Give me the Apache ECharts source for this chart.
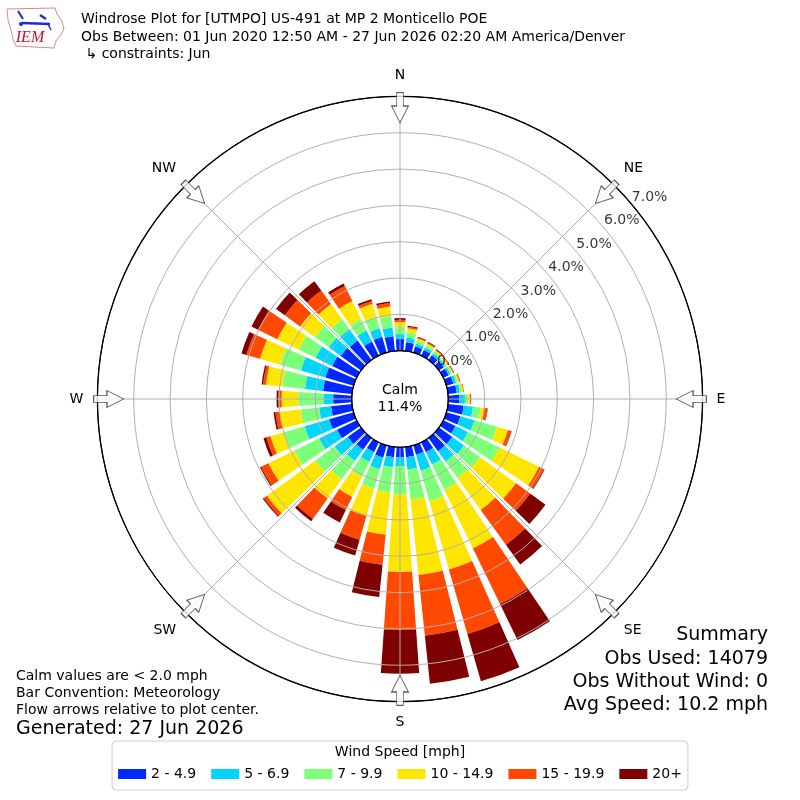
<!DOCTYPE html>
<html>
<head>
<meta charset="utf-8">
<script src="https://cdn.jsdelivr.net/npm/echarts@6/dist/echarts.min.js"></script>
<style>html,body{margin:0;padding:0;background:#fff}#chart{width:800px;height:800px}</style>
</head>
<body>
<div id="chart"></div>
<script>
// ---- data ----
const directions = ['0','10','20','30','40','50','60','70','80','90','100','110','120','130','140','150','160','170',
                    '180','190','200','210','220','230','240','250','260','270','280','290','300','310','320','330','340','350'];
const speedBins = ['2 - 4.9', '5 - 6.9', '7 - 9.9', '10 - 14.9', '15 - 19.9', '20+'];
const spd2to5 = [0.32,0.24,0.18,0.17,0.16,0.16,0.16,0.20,0.24,0.30,0.43,0.40,0.37,0.45,0.45,0.30,0.27,0.28,
                 0.28,0.28,0.35,0.30,0.40,0.45,0.60,0.70,0.58,0.51,0.80,0.81,0.75,0.69,0.66,0.43,0.45,0.41];
const spd5to7 = [0.14,0.13,0.08,0.08,0.07,0.06,0.06,0.08,0.09,0.16,0.26,0.40,0.38,0.40,0.35,0.38,0.45,0.34,
                 0.24,0.28,0.33,0.30,0.38,0.45,0.55,0.70,0.33,0.27,0.50,0.70,0.51,0.41,0.39,0.34,0.25,0.24];
const spd7to10 = [0.19,0.15,0.08,0.07,0.06,0.05,0.05,0.05,0.05,0.09,0.21,0.65,0.97,0.55,0.56,0.77,0.88,0.83,
                  0.78,0.70,0.56,0.45,0.62,0.65,0.75,0.60,0.51,0.69,0.63,0.59,0.52,0.46,0.33,0.35,0.33,0.32];
const spd10to15 = [0.14,0.11,0.06,0.05,0.04,0.04,0.03,0.04,0.04,0.05,0.11,0.31,1.21,1.22,1.09,1.80,1.95,2.09,
                   2.13,1.17,0.78,0.62,0.66,1.65,0.80,0.38,0.58,0.46,0.45,0.58,0.65,0.51,0.52,0.55,0.37,0.26];
const spd15to20 = [0.06,0.04,0.03,0.03,0.02,0.02,0.02,0.02,0.02,0.02,0.08,0.10,0.15,0.48,1.18,1.70,1.85,1.68,
                   1.60,0.83,0.68,0.40,0.69,0.11,0.23,0.12,0.12,0.09,0.08,0.39,0.59,0.52,0.46,0.46,0.08,0.10];
const spd20plus = [0.05,0.03,0.02,0.02,0.02,0.01,0.01,0.01,0.00,0.01,0.01,0.01,0.02,0.52,0.67,1.10,1.35,1.33,
                   1.20,0.89,0.45,0.38,0.08,0.03,0.03,0.08,0.05,0.05,0.04,0.14,0.20,0.30,0.32,0.08,0.05,0.04];
const radiusTicks = [0, 1, 2, 3, 4, 5, 6, 7];
const compassLabels = ['N', 'NE', 'E', 'SE', 'S', 'SW', 'W', 'NW'];
const compassAngles = [0, 45, 90, 135, 180, 225, 270, 315];
const calmPct = 11.4;
const summary = ['Summary', 'Obs Used: 14079', 'Obs Without Wind: 0', 'Avg Speed: 10.2 mph'];
const notes = ['Calm values are < 2.0 mph', 'Bar Convention: Meteorology', 'Flow arrows relative to plot center.'];

// ---- styles ----
const binColors = ['#0028ff', '#00d4ff', '#7cff79', '#ffe600', '#ff4800', '#7f0000'];
const FONT = '"DejaVu Sans", sans-serif';
const CX = 400, CY = 399, R_IN = 48.3, R_OUT = 302.6;
const rMax = 7;
const arrowR = 6.69;     // radial placement of compass arrows (axis units)
const rLabelAngle = 50;  // compass angle of ring labels
const gridGray = '#b0b0b0';

const seriesData = [spd2to5, spd5to7, spd7to10, spd10to15, spd15to20, spd20plus];

const barSeries = seriesData.map((d, i) => ({
  name: speedBins[i],
  type: 'bar',
  coordinateSystem: 'polar',
  polarIndex: 0,
  stack: 'wind',
  data: d,
  barCategoryGap: '20%',
  itemStyle: { color: binColors[i] },
  silent: true,
  z: 2
}));

const ringColors = radiusTicks.map((t, i) => (i === 0 || i === radiusTicks.length - 1) ? '#000' : gridGray);

const arrowPath = 'path://M8.5,0 L17,16.7 L11.8,16.7 L11.8,30 L5.2,30 L5.2,16.7 L0,16.7 Z';

const txt = (x, y, text, size, align, extra) => Object.assign({
  type: 'text', x: x, y: y, silent: true,
  style: { text: text, font: size + 'px ' + FONT, fill: '#000', textAlign: align || 'left', textVerticalAlign: 'middle' }
}, extra || {});

const graphics = [
  txt(81, 19, 'Windrose Plot for [UTMPO] US-491 at MP 2 Monticello POE', 14),
  txt(81, 37, 'Obs Between: 01 Jun 2020 12:50 AM - 27 Jun 2026 02:20 AM America/Denver', 14),
  txt(81, 54, ' \u21b3 constraints: Jun', 14),
  txt(CX, 390, 'Calm', 14, 'center'),
  txt(CX, 407, calmPct.toFixed(1) + '%', 14, 'center'),
  txt(16, 676, notes[0], 14),
  txt(16, 693, notes[1], 14),
  txt(16, 710, notes[2], 14),
  txt(16, 729, 'Generated: 27 Jun 2026', 19),
  txt(768, 635, summary[0], 19, 'right'),
  txt(768, 659, summary[1], 19, 'right'),
  txt(768, 682, summary[2], 19, 'right'),
  txt(768, 705, summary[3], 19, 'right'),
  txt(CX, 752, 'Wind Speed [mph]', 14, 'center', { z: 100 }),
  // IEM logo (approximation)
  { type: 'polygon', silent: true,
    shape: { points: [[7,9],[55,8],[57,14],[62,21],[64,29],[60,36],[56,41],[54,48],[16,46],[13,39],[11,30],[8,20]] },
    style: { fill: '#fff', stroke: '#d88', lineWidth: 1 } },
  { type: 'polyline', silent: true, shape: { points: [[22,23],[50,24]] }, style: { stroke: '#1a2fd0', lineWidth: 2.5 } },
  { type: 'polyline', silent: true, shape: { points: [[18,11],[23,19]] }, style: { stroke: '#1a2fd0', lineWidth: 2 } },
  { type: 'polyline', silent: true, shape: { points: [[40,15],[46,19]] }, style: { stroke: '#1a2fd0', lineWidth: 2.5 } },
  { type: 'polyline', silent: true, shape: { points: [[48,24],[51,30]] }, style: { stroke: '#1a2fd0', lineWidth: 1.5 } },
  { type: 'circle', silent: true, shape: { cx: 21, cy: 24, r: 2 }, style: { fill: '#1a2fd0' } },
  { type: 'text', x: 30, y: 38, silent: true,
    style: { text: 'IEM', font: 'italic 16px "Liberation Serif", serif', fill: '#c8102e', textAlign: 'center', textVerticalAlign: 'middle' } }
];

const option = {
  backgroundColor: '#fff',
  animation: false,
  textStyle: { fontFamily: FONT },
  polar: [
    { center: [CX, CY], radius: [R_IN, R_OUT] },
    { center: [CX, CY], radius: [R_IN, R_OUT] }
  ],
  angleAxis: [
    { polarIndex: 0, type: 'category', data: directions, startAngle: 95, clockwise: true, boundaryGap: true,
      axisLine: { show: false }, axisTick: { show: false }, axisLabel: { show: false }, splitLine: { show: false } },
    { polarIndex: 1, type: 'value', min: 0, max: 360, interval: 45, startAngle: 90, clockwise: true, z: 3,
      axisLine: { show: true, lineStyle: { color: '#000', width: 1.3 } },
      axisTick: { show: false },
      axisLabel: { show: true, margin: 14, fontSize: 14, color: '#000', fontFamily: FONT,
        formatter: v => (v >= 360 ? '' : compassLabels[Math.round(v / 45) % 8]) },
      splitLine: { show: true, lineStyle: { color: gridGray, width: 1 } } }
  ],
  radiusAxis: [
    { polarIndex: 0, min: 0, max: rMax, interval: 1, z: 3,
      axisLine: { show: false }, axisTick: { show: false }, axisLabel: { show: false },
      splitLine: { show: true, lineStyle: { color: ringColors, width: 1 } } },
    { polarIndex: 1, min: 0, max: rMax, interval: 1,
      axisLine: { show: false }, axisTick: { show: false }, axisLabel: { show: false }, splitLine: { show: false } }
  ],
  legend: {
    data: speedBins,
    left: 'center', top: 741, orient: 'horizontal',
    icon: 'rect', itemWidth: 28, itemHeight: 10, itemGap: 15,
    textStyle: { fontSize: 14, color: '#000', fontFamily: FONT },
    borderColor: '#cccccc', borderWidth: 1, borderRadius: 4,
    padding: [26, 6, 9, 6],
    selectedMode: false
  },
  graphic: graphics,
  series: barSeries.concat([
    {
      name: 'arrows', type: 'scatter', coordinateSystem: 'polar', polarIndex: 1, silent: true, z: 6,
      data: compassAngles.map(a => [arrowR, a]),
      symbol: arrowPath, symbolSize: [17, 30], symbolKeepAspect: false,
      symbolRotate: (val) => 180 - val[1],
      itemStyle: { color: '#fff', borderColor: '#333', borderWidth: 1 }
    },
    {
      name: 'ringLabels', type: 'scatter', coordinateSystem: 'polar', polarIndex: 1, silent: true, z: 6,
      data: radiusTicks.map(t => [t, rLabelAngle]),
      symbolSize: 0,
      label: { show: true, position: 'right', distance: 0, offset: [0, -7], fontSize: 14, color: '#000',
               fontFamily: FONT, formatter: p => p.value[0].toFixed(1) + '%' }
    }
  ])
};

const chart = echarts.init(document.getElementById('chart'));
chart.setOption(option);
</script>
</body>
</html>
